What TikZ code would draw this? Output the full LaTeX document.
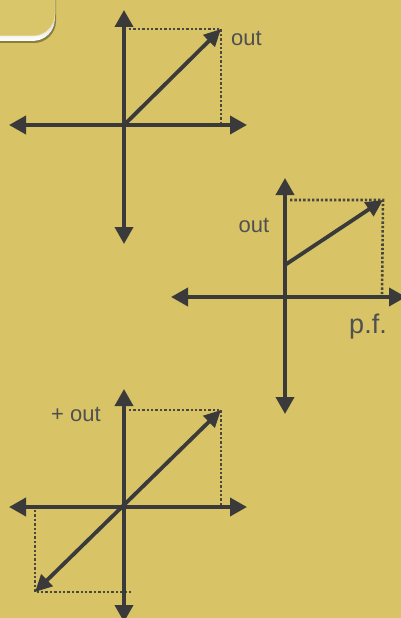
\documentclass[tikz,border=0pt]{standalone}
\usepackage{fontspec}
\setmainfont{Liberation Sans}
\usetikzlibrary{arrows.meta}
\definecolor{bg}{HTML}{D8C466}
\definecolor{ink}{HTML}{3A3A3A}
\definecolor{lbl}{HTML}{505050}
\definecolor{panel}{HTML}{DAC66A}
\definecolor{shade}{HTML}{6E6122}
\tikzset{
  axis/.style={draw=ink,line width=3.8pt,{Triangle[length=17pt,width=18pt]}-{Triangle[length=17pt,width=18pt]}},
  vec/.style={draw=ink,line width=3.8pt,-{Triangle[length=17pt,width=16pt]}},
  dvec/.style={draw=ink,line width=3.8pt,{Triangle[length=17pt,width=16pt]}-{Triangle[length=17pt,width=16pt]}},
  dots/.style={draw=ink!90!bg,line width=2.6pt,dash pattern=on 2.4pt off 2pt},
  lab/.style={text=lbl,font=\fontsize{22}{22}\selectfont,inner sep=0pt}
}
\begin{document}
\begin{tikzpicture}[x=1pt,y=-1pt]
\fill[bg] (0,0) rectangle (401,618);
\useasboundingbox (0,0) rectangle (401,618);
% top-left panel
\fill[shade!70!bg] (-30,-30) [rounded corners=22pt] -- (-30,43) -- (56,43) -- (56,-30) -- cycle;
\fill[shade] (-30,-30) [rounded corners=22pt] -- (-30,41) -- (55,41) -- (55,-30) -- cycle;
\fill[panel,draw=white!55!panel,line width=0.5pt] (-30,-30) [rounded corners=22pt] -- (-30,36) -- (55,36) -- (55,-30) -- cycle;
% diagram 1
\coordinate (o1) at (124,125);
\coordinate (t1) at (124,10);
\coordinate (b1) at (124,244);
\coordinate (l1) at (9,125);
\coordinate (r1) at (247,125);
\coordinate (p1) at (221,29);
\draw[dots] (129,29) -- (p1) -- (221,125);
\draw[axis] (l1) -- (r1);
\draw[axis] (t1) -- (b1);
\draw[vec] (o1) -- (p1);
\node[lab,anchor=west] (out1) at (231,38) {out};
% diagram 2
\coordinate (o2) at (285,297);
\coordinate (t2) at (285,178);
\coordinate (b2) at (285,414);
\coordinate (l2) at (171,297);
\coordinate (r2) at (406,297);
\coordinate (s2) at (285,265);
\coordinate (p2) at (383,200);
\draw[dots] (290,200) -- (p2) -- (382,297);
\draw[axis] (l2) -- (r2);
\draw[axis] (t2) -- (b2);
\draw[vec] (s2) -- (p2);
\node[lab,anchor=center] (out2) at (254,225) {out};
\node[lab,anchor=center,font=\fontsize{27}{27}\selectfont] (pf) at (368,327) {p.f.};
% diagram 3
\coordinate (o3) at (124,507);
\coordinate (t3) at (124,389);
\coordinate (b3) at (124,622);
\coordinate (l3) at (9,507);
\coordinate (r3) at (247,507);
\coordinate (p3) at (221,410);
\coordinate (q3) at (35,592);
\draw[dots] (129,410) -- (p3) -- (221,505);
\draw[dots] (35,510) -- (q3) -- (131,592);
\draw[axis] (l3) -- (r3);
\draw[axis] (t3) -- (b3);
\draw[dvec] (q3) -- (p3);
\node[lab,anchor=center] (out3) at (76,414) {+ out};
\end{tikzpicture}
\end{document}
